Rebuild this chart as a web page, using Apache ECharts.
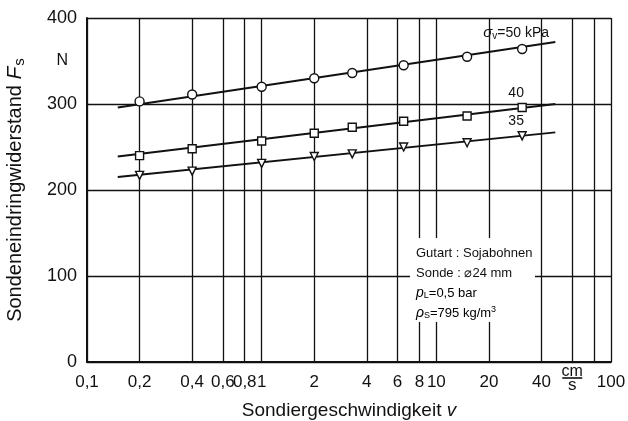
<!DOCTYPE html>
<html>
<head>
<meta charset="utf-8">
<script src="https://cdn.jsdelivr.net/npm/echarts@6/dist/echarts.min.js"></script>
<style>
  html, body { margin: 0; padding: 0; background: #fff; }
  #chart { width: 628px; height: 421px; }
</style>
</head>
<body>
<div id="chart"></div>
<script>
// Probe speed grid (cm/s) and labelled ticks
const gridSpeeds  = [0.1, 0.2, 0.4, 0.6, 0.8, 1, 2, 4, 6, 8, 10, 20, 40, 60, 80, 100];
const labelSpeeds = [0.1, 0.2, 0.4, 0.6, 0.8, 1, 2, 4, 6, 8, 10, 20, 40, 100];
const forceTicks  = [0, 100, 200, 300, 400];

// Measured points: probe speed v (cm/s) vs. penetration resistance Fs (N)
const speeds = [0.2, 0.4, 1, 2, 3.3, 6.5, 15, 31];
const fs50   = [303, 311, 320, 330, 336, 345, 355, 364];
const fs40   = [240, 248, 257, 266, 273, 280, 286, 296];
const fs35   = [217, 222, 231, 239, 242, 250, 255, 263];

// Fitted straight lines (start / end of each line)
const fitSpeeds = [0.15, 48];
const fit50 = [296, 372];
const fit40 = [239, 300];
const fit35 = [215, 267];

const FONT = '"Liberation Sans", Arial, sans-serif';
const BLACK = '#111';

const chart = echarts.init(document.getElementById('chart'), null, { renderer: 'canvas' });

const pairs = (xs, ys) => xs.map((x, i) => [x, ys[i]]);
const commaNum = v => String(+Number(v).toPrecision(4)).replace('.', ',');

function fitLine(ys) {
  return {
    type: 'line', silent: true, z: 2,
    data: pairs(fitSpeeds, ys),
    symbol: 'none',
    lineStyle: { color: BLACK, width: 2 }
  };
}

function markers(ys, symbol, rotate, size, labelText) {
  const last = ys.length - 1;
  return {
    type: 'scatter', silent: true, z: 3,
    symbol: symbol, symbolSize: size, symbolRotate: rotate,
    itemStyle: { color: '#fff', borderColor: BLACK, borderWidth: 1.4, opacity: 1 },
    label: {
      show: false, position: 'top', distance: 3, offset: [-6, 0],
      formatter: labelText, color: BLACK, opacity: 1,
      textBorderWidth: 0, fontFamily: FONT, fontSize: 14,
      rich: {
        g: { fontFamily: FONT, fontSize: 15, fontStyle: 'italic', color: BLACK },
        sub: { fontFamily: FONT, fontSize: 10, color: BLACK, padding: [6, 0, 0, 0] },
        t: { fontFamily: FONT, fontSize: 14, color: BLACK }
      }
    },
    data: speeds.map((x, i) => i === last
      ? { value: [x, ys[i]], label: { show: true } }
      : [x, ys[i]])
  };
}

const option = {
  animation: false,
  backgroundColor: '#fff',
  grid: { left: 87, right: 17, top: 18, bottom: 59, outerBoundsMode: 'none', containLabel: false },
  xAxis: [{
    type: 'log', logBase: 10, min: 0.1, max: 100,
    axisLine: { lineStyle: { color: BLACK, width: 2 } },
    axisTick: { show: false, customValues: gridSpeeds },
    axisLabel: {
      customValues: labelSpeeds, formatter: commaNum,
      color: BLACK, fontFamily: FONT, fontSize: 17, margin: 12
    },
    splitLine: { show: true, lineStyle: { color: BLACK, width: 1.3 } },
    name: '{t|Sondiergeschwindigkeit }{i|v}',
    nameLocation: 'middle', nameGap: 39,
    nameTextStyle: {
      rich: {
        t: { fontFamily: FONT, fontSize: 19, color: BLACK },
        i: { fontFamily: FONT, fontSize: 19, fontStyle: 'italic', color: BLACK }
      }
    }
  }],
  yAxis: [{
    type: 'value', min: 0, max: 400, interval: 100,
    axisLine: { show: true, lineStyle: { color: BLACK, width: 2 } },
    axisTick: { show: false, customValues: forceTicks },
    axisLabel: { color: BLACK, fontFamily: FONT, fontSize: 18, margin: 10 },
    splitLine: { show: true, lineStyle: { color: BLACK, width: 1.3 } },
    name: '{t|Sondeneindringwiderstand }{i|F}{s|s}',
    nameLocation: 'middle', nameGap: 60, nameRotate: 90,
    nameTextStyle: {
      rich: {
        t: { fontFamily: FONT, fontSize: 20, color: BLACK },
        i: { fontFamily: FONT, fontSize: 21, fontStyle: 'italic', color: BLACK },
        s: { fontFamily: FONT, fontSize: 15, color: BLACK, padding: [8, 0, 0, 1] }
      }
    }
  }, {
    // unit label on the force axis
    type: 'value', min: 0, max: 400, position: 'left',
    axisLine: { show: false }, splitLine: { show: false },
    axisTick: { show: false },
    axisLabel: {
      customValues: [350], formatter: () => 'N',
      color: BLACK, fontFamily: FONT, fontSize: 16, margin: 19
    }
  }],
  series: [
    fitLine(fit50), fitLine(fit40), fitLine(fit35),
    markers(fs50, 'circle', 0, 9, '{g|σ}{sub|v}{t|=50 kPa}'),
    markers(fs40, 'rect', 0, 8, '40'),
    markers(fs35, 'triangle', 180, 8, '35')
  ]
};

chart.setOption(option);

// Unit fraction "cm/s" sitting in the tick row, and the test-condition note
const ux = chart.convertToPixel({ xAxisIndex: 0 }, 60);
const uy = chart.convertToPixel({ yAxisIndex: 0 }, 0);

const noteRich = {
  t: { fontFamily: FONT, fontSize: 13, color: BLACK },
  i: { fontFamily: FONT, fontSize: 14, fontStyle: 'italic', color: BLACK },
  sub: { fontFamily: FONT, fontSize: 9, color: BLACK, padding: [6, 0, 0, 0] },
  sup: { fontFamily: FONT, fontSize: 9, color: BLACK, padding: [0, 0, 6, 0] }
};

chart.setOption({
  graphic: [
    {
      type: 'group', x: 0, y: 0, silent: true, z: 100,
      children: [
        { type: 'text', x: ux, y: uy + 2, style: { text: 'cm', font: '16px ' + FONT, fill: BLACK, align: 'center', verticalAlign: 'top' } },
        { type: 'line', shape: { x1: ux - 10, y1: uy + 16, x2: ux + 10, y2: uy + 16 }, style: { stroke: BLACK, lineWidth: 1.6 } },
        { type: 'text', x: ux, y: uy + 15, style: { text: 's', font: '17px ' + FONT, fill: BLACK, align: 'center', verticalAlign: 'top' } }
      ]
    },
    {
      type: 'group', silent: true, z: 100, x: 0, y: 0,
      children: [
        { type: 'rect', shape: { x: 410, y: 238, width: 125, height: 84 }, style: { fill: '#fff' } },
        { type: 'text', x: 416, y: 253, style: { text: 'Gutart : Sojabohnen', font: '13px ' + FONT, fill: BLACK, verticalAlign: 'middle' } },
        { type: 'text', x: 416, y: 273, style: { text: 'Sonde : ⌀24 mm', font: '13px ' + FONT, fill: BLACK, verticalAlign: 'middle' } },
        { type: 'text', x: 416, y: 293, style: { text: '{i|p}{sub|L}{t|=0,5 bar}', rich: noteRich, verticalAlign: 'middle' } },
        { type: 'text', x: 416, y: 313, style: { text: '{i|ρ}{sub|S}{t|=795 kg/m}{sup|3}', rich: noteRich, verticalAlign: 'middle' } }
      ]
    }
  ]
});
</script>
</body>
</html>
